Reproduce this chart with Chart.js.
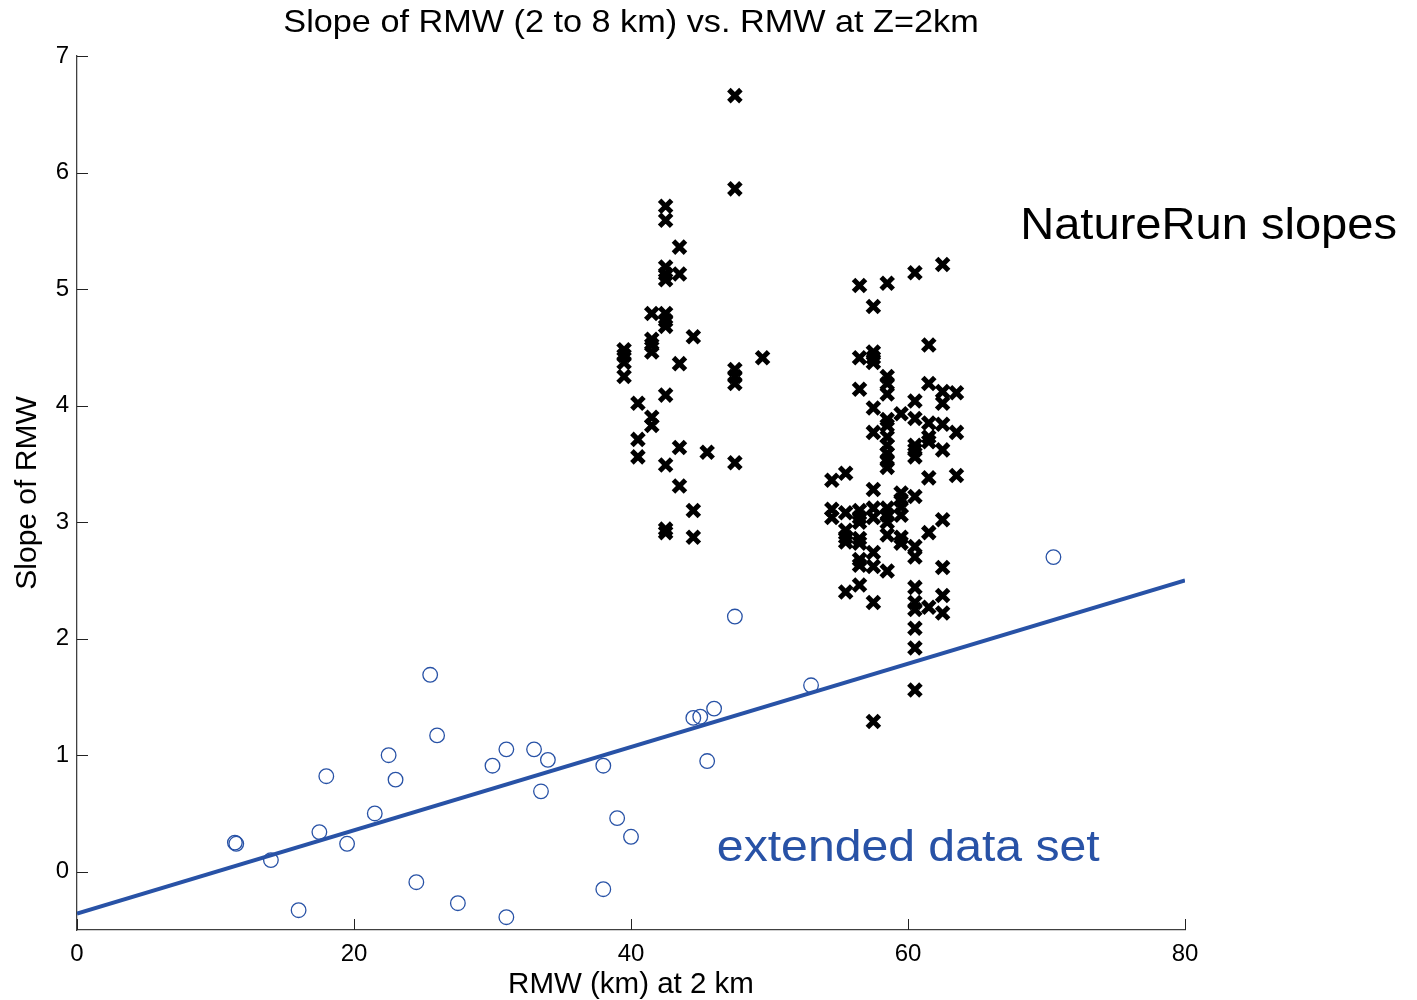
<!DOCTYPE html>
<html>
<head>
<meta charset="utf-8">
<title>Slope of RMW vs. RMW at Z=2km</title>
<script src="https://cdn.jsdelivr.net/npm/chart.js@4.4.1/dist/chart.umd.min.js"></script>
<style>
    html, body { margin: 0; padding: 0; background: #ffffff; }
    #wrap { width: 1417px; height: 1000px; }
</style>
</head>
<body>
<div id="wrap"><canvas id="slopeChart" width="1417" height="1000"></canvas></div>
<script>
// NatureRun slopes (crosses)
const natureX = [
    47.5, 47.5, 42.5, 42.5, 43.5, 42.5, 42.5, 43.5, 42.5, 41.5,
    42.5, 42.5, 42.5, 44.5, 41.5, 41.5, 41.5, 39.5, 39.5, 39.5,
    49.5, 43.5, 47.5, 47.5, 47.5, 39.5, 42.5, 40.5, 41.5, 41.5,
    40.5, 40.5, 43.5, 45.5, 47.5, 42.5, 43.5, 44.5, 42.5, 42.5,
    44.5,
    62.5, 60.5, 58.5, 56.5, 57.5, 61.5, 56.5, 57.5, 57.5, 57.5,
    58.5, 58.5, 58.5, 56.5, 61.5, 62.5, 63.5, 62.5, 60.5, 57.5,
    59.5, 60.5, 58.5, 58.5, 61.5, 62.5, 57.5, 63.5, 58.5, 61.5,
    61.5, 60.5, 60.5, 60.5, 62.5, 58.5, 58.5, 58.5, 58.5, 55.5,
    54.5, 61.5, 63.5, 57.5, 59.5, 59.5, 60.5, 54.5, 54.5, 55.5,
    56.5, 56.5, 56.5, 57.5, 57.5, 58.5, 58.5, 58.5, 59.5, 59.5,
    62.5, 61.5, 55.5, 55.5, 55.5, 56.5, 56.5, 58.5, 59.5, 59.5,
    60.5, 60.5, 57.5, 57.5, 56.5, 56.5, 58.5, 62.5, 56.5, 55.5,
    57.5, 60.5, 62.5, 60.5, 60.5, 61.5, 62.5, 60.5, 60.5, 60.5,
    57.5
];
const natureY = [
    6.66, 5.86, 5.71, 5.59, 5.36, 5.19, 5.13, 5.13, 5.08, 4.79,
    4.79, 4.73, 4.68, 4.59, 4.57, 4.52, 4.46, 4.48, 4.43, 4.37,
    4.41, 4.36, 4.31, 4.25, 4.19, 4.25, 4.09, 4.02, 3.90, 3.83,
    3.71, 3.56, 3.64, 3.60, 3.51, 3.49, 3.31, 3.10, 2.94, 2.91,
    2.87,
    5.21, 5.14, 5.05, 5.03, 4.85, 4.52, 4.41, 4.46, 4.41, 4.37,
    4.25, 4.19, 4.10, 4.14, 4.19, 4.12, 4.11, 4.02, 4.04, 3.98,
    3.93, 3.89, 3.88, 3.83, 3.85, 3.84, 3.77, 3.77, 3.73, 3.73,
    3.69, 3.66, 3.62, 3.56, 3.62, 3.66, 3.59, 3.53, 3.47, 3.42,
    3.36, 3.38, 3.40, 3.28, 3.25, 3.19, 3.22, 3.11, 3.04, 3.08,
    3.10, 3.04, 3.00, 3.12, 3.04, 3.12, 3.06, 3.00, 3.13, 3.06,
    3.02, 2.91, 2.93, 2.87, 2.83, 2.86, 2.82, 2.89, 2.87, 2.82,
    2.79, 2.70, 2.74, 2.62, 2.68, 2.63, 2.58, 2.61, 2.46, 2.40,
    2.31, 2.44, 2.37, 2.31, 2.25, 2.27, 2.22, 2.09, 1.92, 1.56,
    1.29
];

// extended data set (open circles)
const extX = [
    11.5, 11.4, 14.0, 16.0, 17.5, 18.0, 19.5, 21.5, 22.5, 23.0,
    24.5, 25.5, 26.0, 27.5, 30.0, 31.0, 31.0, 33.0, 33.5, 34.0,
    38.0, 38.0, 39.0, 40.0, 44.5, 45.0, 45.5, 46.0, 47.5, 53.0,
    70.5
];
const extY = [
    0.24, 0.25, 0.10, -0.33, 0.34, 0.82, 0.24, 0.50, 1.00, 0.79,
    -0.09, 1.69, 1.17, -0.27, 0.91, 1.05, -0.39, 1.05, 0.69, 0.96,
    0.91, -0.15, 0.46, 0.30, 1.32, 1.33, 0.95, 1.40, 2.19, 1.60,
    2.70
];

// least squares line through the extended data set
const fitX = [0, 80];
const fitY = [-0.36, 2.50];

// axis ticks
const xTickValues = [0, 20, 40, 60, 80];
const yTickValues = [0, 1, 2, 3, 4, 5, 6, 7];

const blue = 'rgb(40, 82, 166)';
const fontFamily = "'Liberation Sans', Arial, sans-serif";

function toPoints(xs, ys) {
    return xs.map((x, i) => ({ x: x, y: ys[i] }));
}

// text drawn slightly wider than the font's natural width
function drawWideText(ctx, text, x, y, size, color, align) {
    const stretch = 1.07;
    ctx.save();
    ctx.font = size + 'px ' + fontFamily;
    ctx.fillStyle = color;
    ctx.textBaseline = 'alphabetic';
    ctx.textAlign = align;
    ctx.translate(x, y);
    ctx.scale(stretch, 1);
    ctx.fillText(text, 0, 0);
    ctx.restore();
}

// draws the inward tick marks, the title and the two text labels
const decorPlugin = {
    id: 'decor',
    afterDraw(chart) {
        const ctx = chart.ctx;
        const area = chart.chartArea;
        const xs = chart.scales.x;
        const ys = chart.scales.y;

        ctx.save();
        ctx.strokeStyle = '#222222';
        ctx.lineWidth = 1;
        xTickValues.forEach(v => {
            const px = Math.round(xs.getPixelForValue(v)) + 0.5;
            ctx.beginPath();
            ctx.moveTo(px, area.bottom);
            ctx.lineTo(px, area.bottom - 11);
            ctx.stroke();
        });
        yTickValues.forEach(v => {
            const py = Math.round(ys.getPixelForValue(v)) + 0.5;
            ctx.beginPath();
            ctx.moveTo(area.left, py);
            ctx.lineTo(area.left + 11, py);
            ctx.stroke();
        });
        ctx.restore();

        drawWideText(ctx, 'Slope of RMW (2 to 8 km) vs. RMW at Z=2km',
            (area.left + area.right) / 2, 32, 32, '#000000', 'center');
        drawWideText(ctx, 'NatureRun slopes',
            xs.getPixelForValue(68.1), ys.getPixelForValue(5.43), 44, '#000000', 'left');
        drawWideText(ctx, 'extended data set',
            xs.getPixelForValue(46.2), ys.getPixelForValue(0.092), 45, blue, 'left');
    }
};

const slopeChart = new Chart(document.getElementById('slopeChart'), {
    type: 'scatter',
    data: {
        datasets: [
            {
                type: 'line',
                label: 'fit',
                data: toPoints(fitX, fitY),
                borderColor: blue,
                borderWidth: 4,
                pointRadius: 0,
                fill: false,
                order: 0
            },
            {
                label: 'extended data set',
                data: toPoints(extX, extY),
                pointStyle: 'circle',
                pointRadius: 7.3,
                borderColor: blue,
                borderWidth: 1.3,
                backgroundColor: 'rgba(0,0,0,0)',
                order: 1
            },
            {
                label: 'NatureRun slopes',
                data: toPoints(natureX, natureY),
                pointStyle: 'crossRot',
                pointRadius: 8.5,
                borderColor: '#000000',
                borderWidth: 5,
                order: 2
            }
        ]
    },
    options: {
        responsive: false,
        animation: false,
        devicePixelRatio: 1,
        layout: { padding: { left: 0, right: 232, top: 56, bottom: 0 } },
        plugins: {
            legend: { display: false },
            tooltip: { enabled: false },
            title: { display: false }
        },
        scales: {
            x: {
                type: 'linear',
                min: 0,
                max: 80,
                afterBuildTicks: scale => { scale.ticks = xTickValues.map(v => ({ value: v })); },
                afterFit: scale => { scale.height = 70; },
                grid: { display: false, drawTicks: false },
                border: { display: true, color: '#404040', width: 1.3 },
                ticks: {
                    color: '#000000',
                    padding: 10,
                    maxRotation: 0,
                    font: { family: fontFamily, size: 24 }
                },
                title: {
                    display: true,
                    text: 'RMW (km) at 2 km',
                    color: '#000000',
                    padding: { top: 0, bottom: -3 },
                    font: { family: fontFamily, size: 29.5 }
                }
            },
            y: {
                type: 'linear',
                min: -0.5,
                max: 7,
                afterBuildTicks: scale => { scale.ticks = yTickValues.map(v => ({ value: v })); },
                afterFit: scale => { scale.width = 77; },
                grid: { display: false, drawTicks: false },
                border: { display: true, color: '#404040', width: 1.3 },
                ticks: {
                    color: '#000000',
                    padding: 8,
                    font: { family: fontFamily, size: 24 }
                },
                title: {
                    display: true,
                    text: 'Slope of RMW',
                    color: '#000000',
                    padding: { top: 10, bottom: 0 },
                    font: { family: fontFamily, size: 30 }
                }
            }
        }
    },
    plugins: [decorPlugin]
});
</script>
</body>
</html>
